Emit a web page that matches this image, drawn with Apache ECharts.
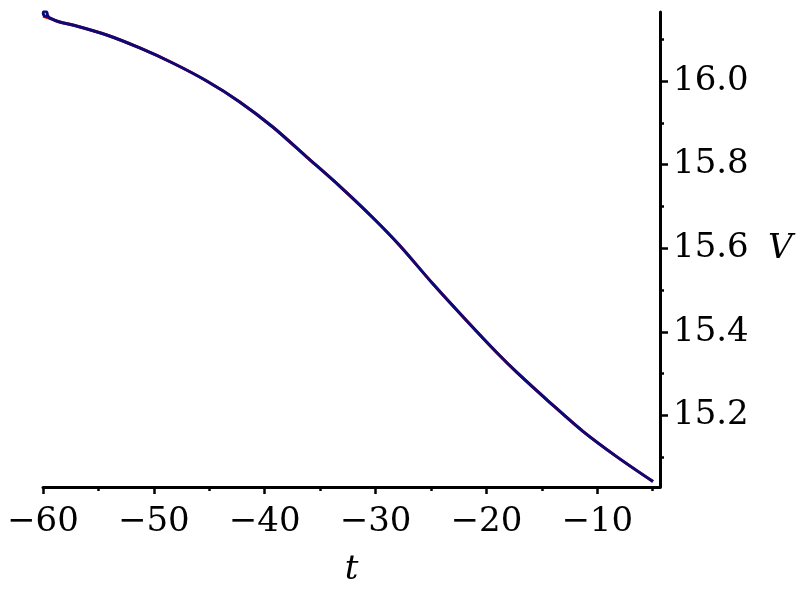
<!DOCTYPE html>
<html>
<head>
<meta charset="utf-8">
<script src="https://cdn.jsdelivr.net/npm/echarts@6/dist/echarts.min.js"></script>
<style>html,body{margin:0;padding:0;background:#fff}#c{width:800px;height:600px}</style>
</head>
<body>
<div id="c"></div>
<script>
// t values and V values
const tBlue = [-59.66, -59.89, -59.98, -59.85, -59.65, -59.58, -59.40, -58.49, -57.32, -54.25, -51.27, -48.30, -45.23, -42.25, -39.27, -36.20, -33.22, -30.24, -27.80, -24.83, -21.76, -19.05, -17.25, -14.27, -11.29, -8.22, -4.97];
const vBlue = [16.154, 16.156, 16.162, 16.168, 16.164, 16.156, 16.151, 16.141, 16.134, 16.110, 16.079, 16.043, 16.000, 15.950, 15.890, 15.818, 15.748, 15.673, 15.606, 15.515, 15.426, 15.350, 15.303, 15.231, 15.162, 15.101, 15.042];
const tRed = [-60.0, -59.2, -58.49, -57.32, -54.25, -51.27, -48.30, -45.23, -42.25, -39.27, -36.20, -33.22, -30.24, -27.80, -24.83, -21.76, -19.05, -17.25, -14.27, -11.29, -8.22, -4.97];
const vRed = [16.155, 16.148, 16.141, 16.134, 16.110, 16.079, 16.043, 16.000, 15.950, 15.890, 15.818, 15.748, 15.673, 15.606, 15.515, 15.426, 15.350, 15.303, 15.231, 15.162, 15.101, 15.042];
const xMajor = [-60, -50, -40, -30, -20, -10];
const xMinor = [-55, -45, -35, -25, -15, -5];
const yMajor = [15.2, 15.4, 15.6, 15.8, 16.0];
const yMinor = [15.1, 15.3, 15.5, 15.7, 15.9, 16.1];

const font = 'DejaVu Serif';
const xRange = [-60, -4.34];
const yRange = [15.029, 16.165];

const chart = echarts.init(document.getElementById('c'), null, {renderer: 'canvas'});
chart.setOption({
  animation: false,
  backgroundColor: '#fff',
  grid: {left: 43, right: 140, top: 12, bottom: 113, containLabel: false},
  xAxis: [{
    type: 'value', min: xRange[0], max: xRange[1], position: 'bottom',
    name: 't', nameLocation: 'middle', nameGap: 66,
    nameTextStyle: {fontFamily: font, fontStyle: 'italic', fontSize: 34, color: '#000'},
    axisLine: {show: true, onZero: false, lineStyle: {color: '#000', width: 3}},
    axisTick: {show: true, customValues: xMajor, length: 7, lineStyle: {color: '#000', width: 2.5}},
    axisLabel: {show: true, customValues: xMajor, margin: 18, fontFamily: font, fontSize: 34, color: '#000',
      formatter: v => String(v).replace('-', '\u2212')},
    splitLine: {show: false}
  }, {
    type: 'value', min: xRange[0], max: xRange[1], position: 'bottom',
    axisLine: {show: false, onZero: false},
    axisTick: {show: true, customValues: xMinor, length: 4, lineStyle: {color: '#000', width: 2.5}},
    axisLabel: {show: false},
    splitLine: {show: false}
  }],
  yAxis: [{
    type: 'value', min: yRange[0], max: yRange[1], position: 'right',
    name: 'V', nameLocation: 'middle', nameGap: 108, nameRotate: 0,
    nameTextStyle: {fontFamily: font, fontStyle: 'italic', fontSize: 34, color: '#000'},
    axisLine: {show: true, onZero: false, lineStyle: {color: '#000', width: 3}},
    axisTick: {show: true, customValues: yMajor, length: 8, lineStyle: {color: '#000', width: 2.5}},
    axisLabel: {show: true, customValues: yMajor, margin: 13, fontFamily: font, fontSize: 34, color: '#000',
      formatter: v => v.toFixed(1)},
    splitLine: {show: false}
  }, {
    type: 'value', min: yRange[0], max: yRange[1], position: 'right',
    axisLine: {show: false, onZero: false},
    axisTick: {show: true, customValues: yMinor, length: 4, lineStyle: {color: '#000', width: 2.5}},
    axisLabel: {show: false},
    splitLine: {show: false}
  }],
  series: [{
    type: 'line', xAxisIndex: 0, yAxisIndex: 0, showSymbol: false, smooth: 0.3,
    lineStyle: {color: '#e00000', width: 3},
    data: tRed.map((t, i) => [t, vRed[i]])
  }, {
    type: 'line', xAxisIndex: 0, yAxisIndex: 0, showSymbol: false, smooth: 0.3,
    lineStyle: {color: '#0a0a78', width: 3},
    data: tBlue.map((t, i) => [t, vBlue[i]])
  }]
});
</script>
</body>
</html>
